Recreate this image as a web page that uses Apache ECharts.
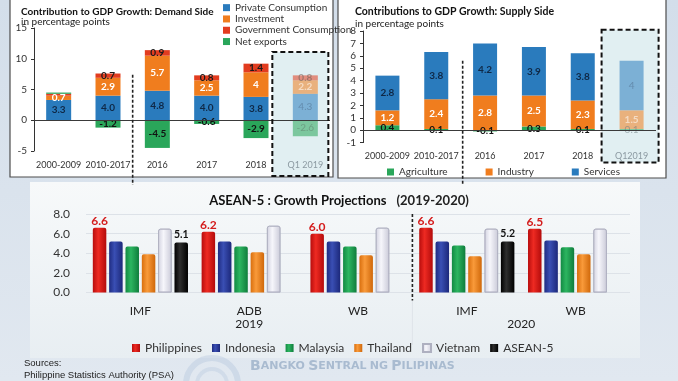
<!DOCTYPE html>
<html><head><meta charset="utf-8">
<script src="https://cdn.jsdelivr.net/npm/echarts@6/dist/echarts.min.js"></script>
<style>html,body{margin:0;padding:0;background:#d9e3ee;}#c{width:678px;height:381px;}</style>
</head><body><div id="c"></div>
<script>
// ---------- data ----------
const demandCats = ['2000-2009','2010-2017','2016','2017','2018','Q1 2019'];
const privateCons = [3.3,4.0,4.8,4.0,3.8,4.3];
const investment = [0.7,2.9,5.7,2.5,4,2.2];
const govCons = [0.3,0.7,0.9,0.8,1.4,0.8];
const netExports = [0.2,-1.2,-4.5,-0.6,-2.9,-2.6];

const supplyCats = ['2000-2009','2010-2017','2016','2017','2018','Q12019'];
const agriculture = [0.4,0.1,-0.1,0.3,0.1,0.1];
const industry = [1.2,2.4,2.8,2.5,2.3,1.5];
const services = [2.8,3.8,4.2,3.9,3.8,4];

const aseanCats = ['IMF','ADB','WB','IMF','WB'];
const yearTicks = {1.5:'2019', 4:'2020'};
const philippines = [6.6,6.2,6.0,6.6,6.5];
const indonesia = [5.2,5.2,5.2,5.2,5.3];
const malaysia = [4.7,4.7,4.7,4.8,4.6];
const thailand = [3.9,4.1,3.8,3.7,3.9];
const vietnam = [6.5,6.8,6.6,6.5,6.5];
const asean5 = [5.1,'-','-',5.2,'-'];

// ---------- styling ----------
const FONT = 'Lato, "Open Sans", sans-serif';
const C_BLUE='#2a7bbd', C_ORANGE='#f07d1e', C_RED='#e23c1f', C_GREEN='#2aa65a';

function topSeries(o){
  const n=o.data.length;
  return {
    name:o.name, type:'bar', stack:o.stack, xAxisIndex:o.axis, yAxisIndex:o.axis, barWidth:o.bw,
    itemStyle:{color:o.color},
    label:{show:true, position:'inside', fontFamily:FONT, fontSize:10, fontWeight:'bold', color:o.labelColor,
      formatter:p=> Math.abs(p.value)<o.minLabel ? '' : o.fmt(p.value)},
    data:o.data.map((v,i)=> i===n-1 ? {value:v, itemStyle:{opacity:0.55}, label:{color:o.lastColor, fontWeight:o.lastWeight||'bold'}} : v),
    markLine:o.zero ? {silent:true, symbol:'none', label:{show:false}, animation:false,
      lineStyle:{color:'#3a3a3a', width:1, type:'solid'}, data:[{yAxis:0}]} : undefined
  };
}
const f1=v=>v.toFixed(1), fs=v=>String(v);

function grad(a,b,c){return {type:'linear',x:0,y:0,x2:1,y2:0,colorStops:[{offset:0,color:a},{offset:0.4,color:b},{offset:1,color:c}]};}
function aseanSeries(name,data,color,extra){
  return Object.assign({name, type:'bar', xAxisIndex:2, yAxisIndex:2, data, barWidth:13.5, barGap:'21%',
    itemStyle:{color, borderRadius:[2,2,0,0]}}, extra||{});
}

const option = {
  animation:false,
  backgroundColor:'transparent',
  title:[
    {text:'Contribution to GDP Growth: Demand Side', left:16, top:2, textStyle:{fontFamily:FONT,fontSize:10,fontWeight:'bold',color:'#111'}},
    {text:'in percentage points', left:16, top:12, textStyle:{fontFamily:FONT,fontSize:10,fontWeight:'normal',color:'#222'}},
    {text:'Contributions to GDP Growth: Supply Side', left:350, top:1, textStyle:{fontFamily:FONT,fontSize:10.5,fontWeight:'bold',color:'#111'}},
    {text:'in percentage points', left:350, top:14, textStyle:{fontFamily:FONT,fontSize:10,fontWeight:'normal',color:'#222'}},
    {text:'{b|ASEAN-5 : Growth Projections}  {n|(2019-2020)}', left:'center', top:187,
      textStyle:{rich:{b:{fontFamily:FONT,fontSize:13,fontWeight:'bold',color:'#111'},n:{fontFamily:FONT,fontSize:13,color:'#222'}}}}
  ],
  legend:[
    {data:['Private Consumption','Investment','Government Consumption','Net exports'], orient:'vertical', left:218, top:-3,
     icon:'rect', itemWidth:7, itemHeight:7, itemGap:0, textStyle:{fontFamily:FONT,fontSize:10,color:'#333',lineHeight:11.3}},
    {data:['Agriculture','Industry','Services'], orient:'horizontal', left:382, top:162,
     icon:'rect', itemWidth:7, itemHeight:7, itemGap:38, textStyle:{fontFamily:FONT,fontSize:10,color:'#333'}},
    {data:['Philippines','Indonesia','Malaysia','Thailand','Vietnam','ASEAN-5'], orient:'horizontal', left:127, top:337,
     icon:'rect', itemWidth:8, itemHeight:8, itemGap:10, textStyle:{fontFamily:FONT,fontSize:12,color:'#333'}}
  ],
  grid:[
    {left:34, top:28, width:296, height:123},
    {left:363, top:31, width:293, height:111.6},
    {left:86, top:214, width:544, height:78.5}
  ],
  xAxis:[
    {type:'category', gridIndex:0, data:demandCats.map((c,i)=> i===demandCats.length-1?{value:c,textStyle:{color:'#8c9aa2'}}:c),
     axisLine:{show:false,onZero:false}, axisTick:{show:false}, axisLabel:{interval:0,fontFamily:FONT,fontSize:9,color:'#333',margin:10}},
    {type:'category', gridIndex:1, data:supplyCats.map((c,i)=> i===supplyCats.length-1?{value:c,textStyle:{color:'#8c9aa2'}}:c),
     axisLine:{show:false,onZero:false}, axisTick:{show:false}, axisLabel:{interval:0,fontFamily:FONT,fontSize:9,color:'#333',margin:9}},
    {type:'category', gridIndex:2, data:aseanCats, position:'bottom',
     axisLine:{show:false,onZero:false}, axisTick:{show:false}, axisLabel:{interval:0,fontFamily:FONT,fontSize:12,color:'#222',margin:13}},
    {type:'value', gridIndex:2, min:0, max:5, interval:0.5, position:'bottom',
     axisLine:{show:false,onZero:false}, axisTick:{show:false}, splitLine:{show:false},
     axisLabel:{fontFamily:FONT,fontSize:12,color:'#222',margin:26, formatter:v=>{for(const k in yearTicks){if(Math.abs(v-k)<1e-6)return yearTicks[k];}return '';}}}
  ],
  yAxis:[
    {type:'value', gridIndex:0, min:-5, max:15, interval:5,
     axisLine:{show:true,lineStyle:{color:'#333'}}, axisTick:{show:true,length:3,lineStyle:{color:'#333'}}, splitLine:{show:false},
     axisLabel:{fontFamily:FONT,fontSize:10,color:'#333',margin:7}},
    {type:'value', gridIndex:1, min:-1, max:8, interval:1,
     axisLine:{show:true,lineStyle:{color:'#333'}}, axisTick:{show:true,length:3,lineStyle:{color:'#333'}}, splitLine:{show:false},
     axisLabel:{fontFamily:FONT,fontSize:10,color:'#333',margin:7}},
    {type:'value', gridIndex:2, min:0, max:8, interval:2,
     axisLine:{show:false}, axisTick:{show:false}, splitLine:{show:true,lineStyle:{color:'#dde2e8'}},
     axisLabel:{fontFamily:FONT,fontSize:12,color:'#333',margin:16,formatter:v=>v.toFixed(1)}}
  ],
  series:[
    topSeries({name:'Private Consumption',data:privateCons,color:C_BLUE,labelColor:'#0f2846',lastColor:'#51708e',lastWeight:'normal',fmt:f1,axis:0,stack:'d',bw:25,minLabel:0.5,zero:true}),
    topSeries({name:'Investment',data:investment,color:C_ORANGE,labelColor:'#ffffff',lastColor:'#ffffff',fmt:fs,axis:0,stack:'d',bw:25,minLabel:0.5}),
    topSeries({name:'Government Consumption',data:govCons,color:C_RED,labelColor:'#1a1a1a',lastColor:'#6d5c55',fmt:f1,axis:0,stack:'d',bw:25,minLabel:0.5}),
    topSeries({name:'Net exports',data:netExports,color:C_GREEN,labelColor:'#111',lastColor:'#5f7d6c',lastWeight:'normal',fmt:f1,axis:0,stack:'d',bw:25,minLabel:0.5}),

    topSeries({name:'Agriculture',data:agriculture,color:C_GREEN,labelColor:'#111',lastColor:'#6a7a80',lastWeight:'normal',fmt:f1,axis:1,stack:'s',bw:24,minLabel:0,zero:true}),
    topSeries({name:'Industry',data:industry,color:C_ORANGE,labelColor:'#ffffff',lastColor:'#ffffff',fmt:f1,axis:1,stack:'s',bw:24,minLabel:0}),
    topSeries({name:'Services',data:services,color:C_BLUE,labelColor:'#0f2846',lastColor:'#51708e',lastWeight:'normal',fmt:fs,axis:1,stack:'s',bw:24,minLabel:0}),

    aseanSeries('Philippines',philippines,grad('#b80d0d','#ee2a22','#b30b0b'),
      {label:{show:true,position:'top',distance:1,fontFamily:FONT,fontSize:12,fontWeight:'bold',color:'#d41c1c',formatter:p=>p.value.toFixed(1)}}),
    aseanSeries('Indonesia',indonesia,grad('#1f2c82','#3a4fb4','#1c287a')),
    aseanSeries('Malaysia',malaysia,grad('#128a43','#2cb560','#0f7d3c')),
    aseanSeries('Thailand',thailand,grad('#d96f0e','#f99a3a','#d0680a')),
    aseanSeries('Vietnam',vietnam,grad('#d2d2e0','#f6f6fb','#cacad8'),{itemStyle:{color:grad('#d2d2e0','#f6f6fb','#cacad8'),borderColor:'#aeb0c0',borderWidth:0.8,borderRadius:[2,2,0,0]}}),
    aseanSeries('ASEAN-5',asean5,grad('#000000','#2e2e2e','#000000'),
      {label:{show:true,position:'top',distance:2,fontFamily:FONT,fontSize:10.5,fontWeight:'bold',color:'#111',formatter:p=>p.value.toFixed(1)}})
  ]
};

const chart = echarts.init(document.getElementById('c'));
chart.setOption(option);

// ---------- decorations tied to the axes ----------
function X(ax,v){return chart.convertToPixel({xAxisIndex:ax},v);}
function Y(ax,v){return chart.convertToPixel({yAxisIndex:ax},v);}
const dMid=(X(0,1)+X(0,2))/2, sMid=(X(1,1)+X(1,2))/2+2, aMid=X(3,3);
const dq=X(0,5), sq=X(1,5);
const dash={stroke:'#111',lineWidth:2,lineDash:[5,3]};
const dots={stroke:'#222',lineWidth:1.6,lineDash:[3,2]};

chart.setOption({graphic:[
  {type:'rect',z:-3,shape:{x:0,y:0,width:678,height:381},style:{fill:{type:'linear',x:0,y:0,x2:0,y2:1,colorStops:[{offset:0,color:'#d3deea'},{offset:1,color:'#e1e8f0'}]}}},
  {type:'rect',z:-2,shape:{x:10,y:-2,width:323,height:179},style:{fill:'#fff',stroke:'#4d4d4d',lineWidth:1.2}},
  {type:'rect',z:-2,shape:{x:338,y:-2,width:328,height:180},style:{fill:'#fff',stroke:'#4d4d4d',lineWidth:1.2}},
  {type:'rect',z:-2,shape:{x:30,y:182,width:610,height:176},style:{fill:{type:'linear',x:0,y:0,x2:0,y2:1,colorStops:[{offset:0,color:'#f7f9fa'},{offset:1,color:'#e8eef2'}]}}},
  // Q1 highlight boxes
  {type:'rect',z:-1,shape:{x:dq-33,y:Y(0,11.1),width:56,height:Y(0,-5)+25-Y(0,11.1)},style:{fill:'#e1eff2'}},
  {type:'rect',z:6,shape:{x:dq-33,y:Y(0,11.1),width:56,height:Y(0,-5)+25-Y(0,11.1)},style:Object.assign({fill:'none'},dash)},
  {type:'rect',z:-1,shape:{x:sq-30,y:Y(1,8.1),width:57,height:Y(1,-1)+20-Y(1,8.1)},style:{fill:'#e1eff2'}},
  {type:'rect',z:6,shape:{x:sq-30,y:Y(1,8.1),width:57,height:Y(1,-1)+20-Y(1,8.1)},style:Object.assign({fill:'none'},dash)},
  // dividers
  {type:'line',z:6,shape:{x1:dMid,y1:Y(0,7.4),x2:dMid,y2:185},style:dots},
  {type:'line',z:6,shape:{x1:sMid,y1:Y(1,5.6),x2:sMid,y2:185},style:dots},
  {type:'line',z:6,shape:{x1:aMid,y1:Y(2,8),x2:aMid,y2:Y(2,0)+8},style:dots},
  {type:'line',z:-1,shape:{x1:aMid,y1:Y(2,0)+8,x2:aMid,y2:345},style:{stroke:'#dfe4e9',lineWidth:1}},
  // watermark
  {type:'circle',z:-1,shape:{cx:212,cy:384,r:26},style:{fill:'none',stroke:'rgba(140,168,205,0.22)',lineWidth:6}},
  {type:'circle',z:-1,shape:{cx:212,cy:384,r:15},style:{fill:'none',stroke:'rgba(140,168,205,0.18)',lineWidth:4}},
  {type:'text',z:-1,left:250,top:359,style:{text:'{a|B}{b|ANGKO} {a|S}{b|ENTRAL} {b|NG} {a|P}{b|ILIPINAS}',
    rich:{a:{fontFamily:'DejaVu Sans',fontSize:14,fontWeight:'bold',fill:'#a9bbd0'},b:{fontFamily:'DejaVu Sans',fontSize:11,fontWeight:'bold',fill:'#a9bbd0'}}}},
  // sources
  {type:'text',z:5,left:24,top:358,style:{text:'Sources:',font:'9.5px "Liberation Sans", Arial, sans-serif',fill:'#222'}},
  {type:'text',z:5,left:24,top:370,style:{text:'Philippine Statistics Authority (PSA)',font:'9.5px "Liberation Sans", Arial, sans-serif',fill:'#222'}},
  {type:'text',z:5,left:24,top:381,style:{text:'World Bank (WB) Global Economic Prospects, April 2019',font:'9.5px "Liberation Sans", Arial, sans-serif',fill:'#222'}}
]});
</script></body></html>
